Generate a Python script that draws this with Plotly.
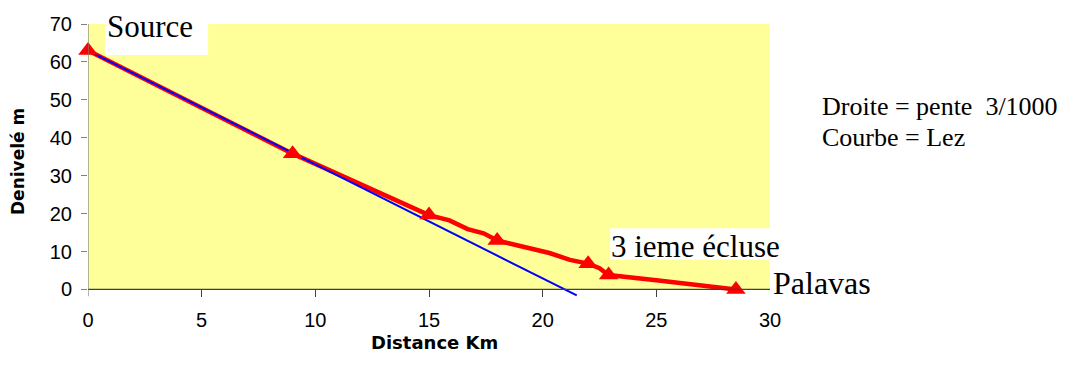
import plotly.graph_objects as go

# Lez profile: elevation (m) versus distance from the source (km)
lez_km = [0, 9, 15, 15.9, 16.7, 17.4, 18, 18.9, 20.3, 21.2, 22, 22.5, 22.9, 25, 28.5]
lez_m = [63, 35.8, 19.6, 18.2, 15.9, 14.8, 12.9, 11.6, 9.6, 7.8, 6.8, 5.6, 3.8, 2.4, 0]

# Surveyed points along the river (source, locks, sea)
pts_km = [0, 9, 15, 18, 22, 22.9, 28.5]
pts_m = [63, 35.8, 19.6, 12.9, 6.8, 3.8, 0]

# Reference straight line: constant slope of 3/1000
slope_km = [0, 5, 9, 12, 15, 16.3, 18.6, 20, 21.5]
slope_m = [63, 48, 36, 27, 18, 14.1, 7.1, 3, -1.6]

x_ticks = [0, 5, 10, 15, 20, 25, 30]
y_ticks = [0, 10, 20, 30, 40, 50, 60, 70]

SERIF = "Liberation Serif, Times New Roman, serif"
SANS = "Liberation Sans, Arial, sans-serif"
BOLD = "DejaVu Sans, Arial, sans-serif"

# plot-area geometry in pixels, used to place the free text
PX_L, PX_R, PX_T, PX_B = 88, 770, 24, 297


def px(xp):
    return (xp - PX_L) / (PX_R - PX_L)


def py(yp):
    return (PX_B - yp) / (PX_B - PX_T)


fig = go.Figure()

fig.add_trace(go.Scatter(
    x=lez_km, y=lez_m, mode="lines",
    line=dict(color="#FF0000", width=4.5),
    showlegend=False,
))
fig.add_trace(go.Scatter(
    x=slope_km, y=slope_m, mode="lines",
    line=dict(color="#0000FF", width=2),
    hoverinfo="skip", showlegend=False,
))
fig.add_trace(go.Scatter(
    x=pts_km, y=pts_m, mode="markers",
    marker=dict(symbol="triangle-up", size=17, color="#FF0000"),
    cliponaxis=False, showlegend=False,
))

shapes = [
    # plot background
    dict(type="rect", xref="x", yref="y", x0=0, x1=30, y0=0, y1=70,
         fillcolor="#FFFF99", line=dict(width=0), layer="below"),
    # white boxes behind the labels
    dict(type="rect", xref="x", yref="y", x0=0.75, x1=5.28, y0=61.8, y1=70.3,
         fillcolor="white", line=dict(width=0), layer="below"),
    dict(type="rect", xref="x", yref="y", x0=22.97, x1=30, y0=7.9, y1=16.1,
         fillcolor="white", line=dict(width=0), layer="below"),
    # axis lines
    dict(type="line", xref="x", yref="y", x0=0, x1=30, y0=0, y1=0,
         line=dict(color="#404040", width=1.2)),
    dict(type="line", xref="x", yref="y", x0=0, x1=0, y0=-1.8, y1=70,
         line=dict(color="#808080", width=1.2)),
]

annotations = [
    dict(text="Source", x=0.8, y=69.4, xref="x", yref="y", xanchor="left",
         yanchor="middle", showarrow=False, borderpad=0,
         font=dict(family=SERIF, size=31, color="black")),
    dict(text="3 ieme écluse", x=22.95, y=11.3, xref="x", yref="y", xanchor="left",
         yanchor="middle", showarrow=False, borderpad=0,
         font=dict(family=SERIF, size=31, color="black")),
    dict(text="Palavas", x=px(772), y=py(283), xref="paper", yref="paper",
         xanchor="left", yanchor="middle", showarrow=False, borderpad=0,
         font=dict(family=SERIF, size=32, color="black")),
    dict(text="Droite = pente\u00a0 3/1000", x=px(821), y=py(106),
         xref="paper", yref="paper", xanchor="left", yanchor="middle", showarrow=False,
         borderpad=0, font=dict(family=SERIF, size=26, color="black")),
    dict(text="Courbe = Lez", x=px(821), y=py(137),
         xref="paper", yref="paper", xanchor="left", yanchor="middle", showarrow=False,
         borderpad=0, font=dict(family=SERIF, size=26, color="black")),
    dict(text="<b>Distance Km</b>", x=px(434), y=py(342),
         xref="paper", yref="paper", xanchor="center", yanchor="middle", showarrow=False,
         font=dict(family=BOLD, size=18, color="black")),
    dict(text="<b>Denivelé m</b>", x=px(18), y=py(162),
         xref="paper", yref="paper", xanchor="center", yanchor="middle", showarrow=False,
         textangle=-90, font=dict(family=BOLD, size=17, color="black")),
]

fig.update_layout(
    width=1068, height=379,
    margin=dict(l=PX_L, r=1068 - PX_R, t=PX_T, b=379 - PX_B, pad=0),
    paper_bgcolor="white", plot_bgcolor="white",
    shapes=shapes, annotations=annotations,
    xaxis=dict(
        range=[0, 30], tickvals=x_ticks, ticktext=[str(v) for v in x_ticks],
        showgrid=False, zeroline=False, showline=False,
        ticks="inside", ticklen=7, tickcolor="#404040", tickwidth=1.2,
        ticklabelstandoff=9,
        tickfont=dict(family=SANS, size=20, color="black"),
    ),
    yaxis=dict(
        range=[-2, 70], tickvals=y_ticks, ticktext=[str(v) for v in y_ticks],
        showgrid=False, zeroline=False, showline=False,
        ticks="outside", ticklen=6, tickcolor="#808080", tickwidth=1.2,
        ticklabelstandoff=5,
        tickfont=dict(family=SANS, size=20, color="black"),
    ),
)

fig.write_html("out.html")
